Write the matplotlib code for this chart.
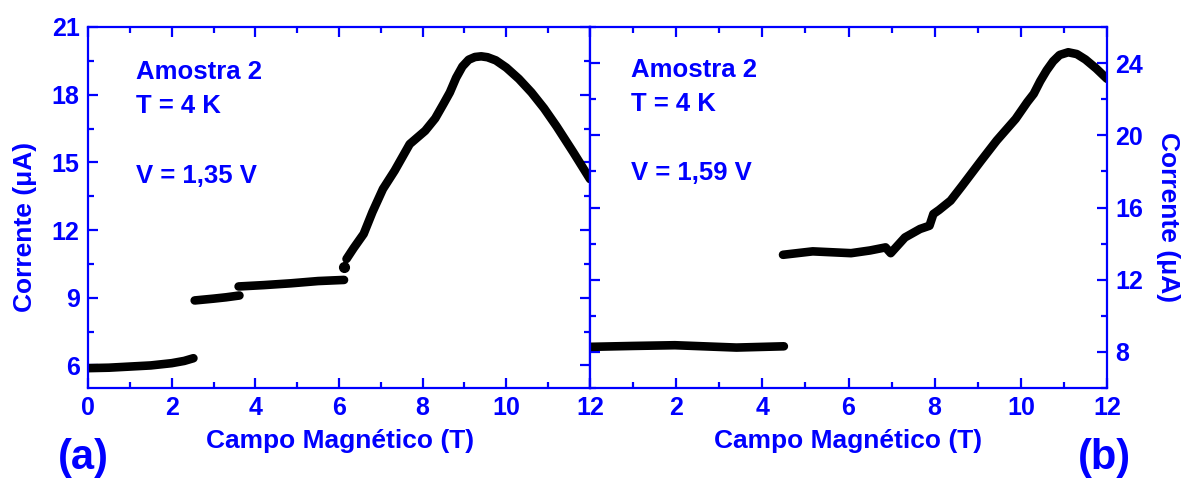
import matplotlib
matplotlib.use("Agg")
import matplotlib.pyplot as plt
from matplotlib.ticker import MultipleLocator

plt.rcParams['font.family'] = ['Liberation Sans', 'DejaVu Sans']
plt.rcParams['font.weight'] = 'bold'

BLUE = '#0000ff'

# ---- Panel (a): V = 1,35 V ----
a_seg1_x = [0.0, 0.5, 1.0, 1.5, 2.0, 2.3, 2.52]
a_seg1_y = [5.88, 5.90, 5.95, 6.00, 6.10, 6.20, 6.32]
a_seg2_x = [2.55, 3.0, 3.3, 3.62]
a_seg2_y = [8.88, 8.96, 9.02, 9.10]
a_seg3_x = [3.60, 4.2, 4.85, 5.5, 6.12]
a_seg3_y = [9.50, 9.56, 9.64, 9.74, 9.79]
a_dot_x = [6.12]
a_dot_y = [10.35]
a_seg4_x = [6.18, 6.35, 6.59, 6.8, 7.05, 7.33, 7.69, 8.06, 8.3, 8.5, 8.65, 8.8, 8.95,
            9.1, 9.25, 9.4, 9.55, 9.75, 10.0, 10.3, 10.6, 10.9, 11.2, 11.6, 12.0]
a_seg4_y = [10.72, 11.2, 11.83, 12.8, 13.82, 14.63, 15.81, 16.40, 16.95, 17.6, 18.1, 18.75, 19.25,
            19.55, 19.67, 19.70, 19.66, 19.52, 19.20, 18.70, 18.10, 17.40, 16.60, 15.45, 14.26]

# ---- Panel (b): V = 1,59 V ----
b_seg1_x = [0.0, 1.0, 1.97, 3.4, 4.5]
b_seg1_y = [8.28, 8.33, 8.37, 8.24, 8.31]
b_seg2_x = [4.48, 5.17, 6.06, 6.5, 6.86, 6.98, 7.31, 7.66, 7.88, 7.97, 8.10, 8.37, 8.64,
            9.08, 9.44, 9.88, 10.15, 10.3, 10.45, 10.6, 10.75, 10.9, 11.1, 11.3, 11.5, 11.75, 12.0]
b_seg2_y = [13.38, 13.57, 13.47, 13.62, 13.79, 13.47, 14.34, 14.81, 14.99, 15.64, 15.86, 16.38, 17.21,
            18.60, 19.71, 20.91, 21.84, 22.30, 23.00, 23.60, 24.10, 24.45, 24.60, 24.50, 24.20, 23.70, 23.13]

xticks = [0, 2, 4, 6, 8, 10, 12]
a_yticks = [6, 9, 12, 15, 18, 21]
b_yticks = [8, 12, 16, 20, 24]

fig = plt.figure(figsize=(11.84, 4.79), dpi=100)
W, H = 1184, 479
axA = fig.add_axes([88 / W, 1 - 388 / H, (590 - 88) / W, (388 - 27) / H])
axB = fig.add_axes([590 / W, 1 - 388 / H, (1107 - 590) / W, (388 - 27) / H])

lw = 6.2
for xs, ys in [(a_seg1_x, a_seg1_y), (a_seg2_x, a_seg2_y), (a_seg3_x, a_seg3_y), (a_seg4_x, a_seg4_y)]:
    axA.plot(xs, ys, color='black', lw=lw, solid_capstyle='round', solid_joinstyle='round')
axA.plot(a_dot_x, a_dot_y, 'o', color='black', ms=7)
for xs, ys in [(b_seg1_x, b_seg1_y), (b_seg2_x, b_seg2_y)]:
    axB.plot(xs, ys, color='black', lw=lw, solid_capstyle='round', solid_joinstyle='round')

axA.set_xlim(0, 12)
axA.set_ylim(5, 21)
axB.set_xlim(0, 12)
axB.set_ylim(6, 26)

for ax in (axA, axB):
    for sp in ax.spines.values():
        sp.set_color(BLUE)
        sp.set_linewidth(1.6)
    ax.set_xticks(xticks)
    ax.xaxis.set_minor_locator(MultipleLocator(1))
    ax.tick_params(which='both', direction='in', top=True, bottom=True, left=True, right=True,
                   color=BLUE, width=1.6, labelcolor=BLUE, labelsize=18, pad=6)
    ax.tick_params(which='major', length=7)
    ax.tick_params(which='minor', length=4)

axA.set_yticks(a_yticks)
axA.yaxis.set_minor_locator(MultipleLocator(1.5))
axB.set_yticks(b_yticks)
axB.yaxis.set_minor_locator(MultipleLocator(2))
axB.tick_params(axis='y', labelleft=False, labelright=True)
axB.set_xticklabels([''] + [str(t) for t in xticks[1:]])

for ax in (axA, axB):
    for lab in ax.get_xticklabels() + ax.get_yticklabels():
        lab.set_fontweight('bold')

fs_lab = 19
fig.text(340 / W, 1 - 441 / H, 'Campo Magnético (T)', color=BLUE, fontsize=fs_lab,
         fontweight='bold', ha='center', va='center')
fig.text(848 / W, 1 - 441 / H, 'Campo Magnético (T)', color=BLUE, fontsize=fs_lab,
         fontweight='bold', ha='center', va='center')
fig.text(25 / W, 1 - 227 / H, 'Corrente (μA)', color=BLUE, fontsize=fs_lab,
         fontweight='bold', ha='center', va='center', rotation=90)
fig.text(1168 / W, 1 - 217 / H, 'Corrente (μA)', color=BLUE, fontsize=fs_lab,
         fontweight='bold', ha='center', va='center', rotation=270)
fig.text(83 / W, 1 - 458 / H, '(a)', color=BLUE, fontsize=30,
         fontweight='bold', ha='center', va='center')
fig.text(1104 / W, 1 - 458 / H, '(b)', color=BLUE, fontsize=30,
         fontweight='bold', ha='center', va='center')

fs_ann = 18.5
for ax, x0, ys, vtxt in [(axA, 0.0956, (0.875, 0.781, 0.587), 'V = 1,35 V'),
                         (axB, 0.079, (0.881, 0.787, 0.596), 'V = 1,59 V')]:
    for y, t in zip(ys, ['Amostra 2', 'T = 4 K', vtxt]):
        ax.text(x0, y, t, transform=ax.transAxes, color=BLUE, fontsize=fs_ann,
                fontweight='bold', ha='left', va='center')

fig.savefig('out.png', dpi=100)
